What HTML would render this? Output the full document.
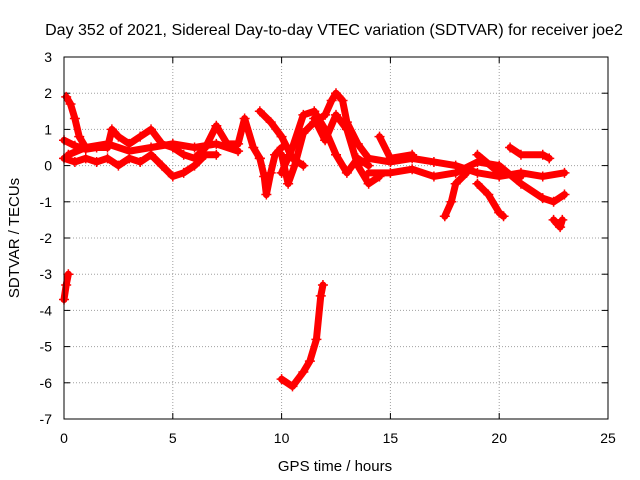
<!DOCTYPE html>
<html><head><meta charset="utf-8"><style>
body{margin:0;background:#fff}
svg{display:block;font-family:"Liberation Sans",sans-serif}
</style></head><body>
<svg id="chart" width="640" height="480" viewBox="0 0 640 480">
<rect width="640" height="480" fill="#fff"/>
<text x="334" y="35" font-size="16" text-anchor="middle">Day 352 of 2021, Sidereal Day-to-day VTEC variation (SDTVAR) for receiver joe2</text>
<text transform="translate(19,238) rotate(-90)" font-size="15" text-anchor="middle">SDTVAR / TECUs</text>
<text x="335" y="471" font-size="15" text-anchor="middle">GPS time / hours</text>
<g id="grid"></g>
<g id="ticks"></g>
<g id="series"></g>
<rect x="64" y="57" width="544" height="362" fill="none" stroke="#000" stroke-width="1"/>
</svg>
<script>
const xTicks=[0,5,10,15,20,25];
const yTicks=[-7,-6,-5,-4,-3,-2,-1,0,1,2,3];
const tracks=[
[[0,0.7],[0.5,0.55],[1,0.45],[1.5,0.5],[2,0.5],[2.2,1.0],[2.5,0.8],[3,0.6],[3.5,0.8],[4,1.0],[4.5,0.6],[5,0.5],[5.5,0.3],[6,0.2],[6.5,0.5],[7,1.1],[7.5,0.6],[8,0.6],[8.3,1.3],[8.7,0.5],[9,0.2]],
[[0,0.2],[0.5,0.1],[1,0.2],[1.5,0.1],[2,0.2],[2.5,0.0],[3,0.2],[3.5,0.1],[4,0.3],[4.5,0.0],[5,-0.3],[5.5,-0.2],[6,0.0],[6.5,0.3],[7,0.3]],
[[0.2,0.3],[1,0.5],[2,0.6],[3,0.4],[4,0.5],[5,0.6],[6,0.5],[7,0.6],[8,0.4]],
[[0.1,1.9],[0.3,1.7],[0.5,1.3],[0.7,0.8],[1,0.5]],
[[0,-3.7],[0.1,-3.3],[0.2,-3.0]],
[[9,0.2],[9.2,-0.3],[9.3,-0.8],[9.5,-0.2],[9.7,0.3],[10,0.5]],
[[9,1.5],[9.5,1.2],[10,0.8],[10.5,0.2],[11,0.0]],
[[10,0.3],[10.3,-0.5],[10.6,0.0],[11,0.9],[11.5,1.2],[12,1.4],[12.3,1.8],[12.5,2.0],[12.8,1.8],[13,1.2],[13.5,0.6],[14,0.2]],
[[10,-0.2],[10.5,0.5],[11,1.4],[11.5,1.5],[12,1.0],[12.5,0.3],[13,-0.2],[13.5,0.2],[14,0.0]],
[[11.5,1.3],[12,0.7],[12.5,1.4],[13,1.0],[13.5,0.0],[14,-0.5],[14.5,-0.3]],
[[10,-5.9],[10.5,-6.1],[11,-5.7],[11.3,-5.4],[11.6,-4.8],[11.8,-3.6],[11.9,-3.3]],
[[14,0.2],[15,0.1],[16,0.2],[17,0.1],[18,0.0],[19,-0.2],[20,-0.3],[21,-0.2],[22,-0.3],[23,-0.2]],
[[14,-0.2],[15,-0.2],[16,-0.1],[17,-0.3],[18,-0.2],[19,0.1],[20,0.0],[21,-0.5],[22,-0.9],[22.5,-1.0],[23,-0.8]],
[[17.5,-1.4],[17.8,-1.0],[18,-0.5],[18.5,-0.2]],
[[19,-0.5],[19.5,-0.8],[20,-1.3],[20.2,-1.4]],
[[20.5,0.5],[21,0.3],[22,0.3],[22.3,0.2]],
[[22.5,-1.5],[22.8,-1.7],[22.9,-1.5]],
[[14.5,0.8],[15,0.2],[16,0.3]],
[[19,0.3],[20,-0.2],[21,-0.3]]
];
const NS='http://www.w3.org/2000/svg';
const X0=64,X1=608,Y0=419,Y1=57;
const xs=v=>X0+(v-0)/(25-0)*(X1-X0);
const ys=v=>Y0-(v+7)/(3+7)*(Y0-Y1);
function mk(t,a,p){const e=document.createElementNS(NS,t);for(const k in a)e.setAttribute(k,a[k]);p.appendChild(e);return e;}
const grid=document.getElementById('grid'),ticks=document.getElementById('ticks'),ser=document.getElementById('series');
xTicks.forEach(t=>{const x=xs(t);
 if(t>0&&t<25){const l=mk('line',{x1:x,x2:x,y1:Y1,y2:Y0,stroke:'#a0a0a0','stroke-dasharray':'1,2'},grid);}
 mk('line',{x1:x,x2:x,y1:Y0,y2:Y0-6,stroke:'#000'},ticks);mk('line',{x1:x,x2:x,y1:Y1,y2:Y1+6,stroke:'#000'},ticks);
 const tx=mk('text',{x:x,y:Y0+24,'font-size':14,'text-anchor':'middle'},ticks);tx.textContent=t;
 });
yTicks.forEach(t=>{const y=ys(t);
 if(t>-7&&t<3){const l=mk('line',{x1:X0,x2:X1,y1:y,y2:y,stroke:'#a0a0a0','stroke-dasharray':'1,2'},grid);}
 mk('line',{x1:X0,x2:X0+6,y1:y,y2:y,stroke:'#000'},ticks);mk('line',{x1:X1,x2:X1-6,y1:y,y2:y,stroke:'#000'},ticks);
 const tx=mk('text',{x:52,y:y+5,'font-size':14,'text-anchor':'end'},ticks);tx.textContent=t;
 });
tracks.forEach(tr=>{
 const pl=mk('polyline',{points:tr.map(p=>xs(p[0])+','+ys(p[1])).join(' '),fill:'none',stroke:'#f00','stroke-width':7,'stroke-linejoin':'round','stroke-linecap':'round'},ser);
 
 
 tr.forEach(p=>{const x=xs(p[0]),y=ys(p[1]);
  const m=mk('path',{d:`M${x-5},${y}H${x+5}M${x},${y-5}V${y+5}`,stroke:'#f00','stroke-width':1.5},ser);
  
  });
});
</script>
</body></html>
